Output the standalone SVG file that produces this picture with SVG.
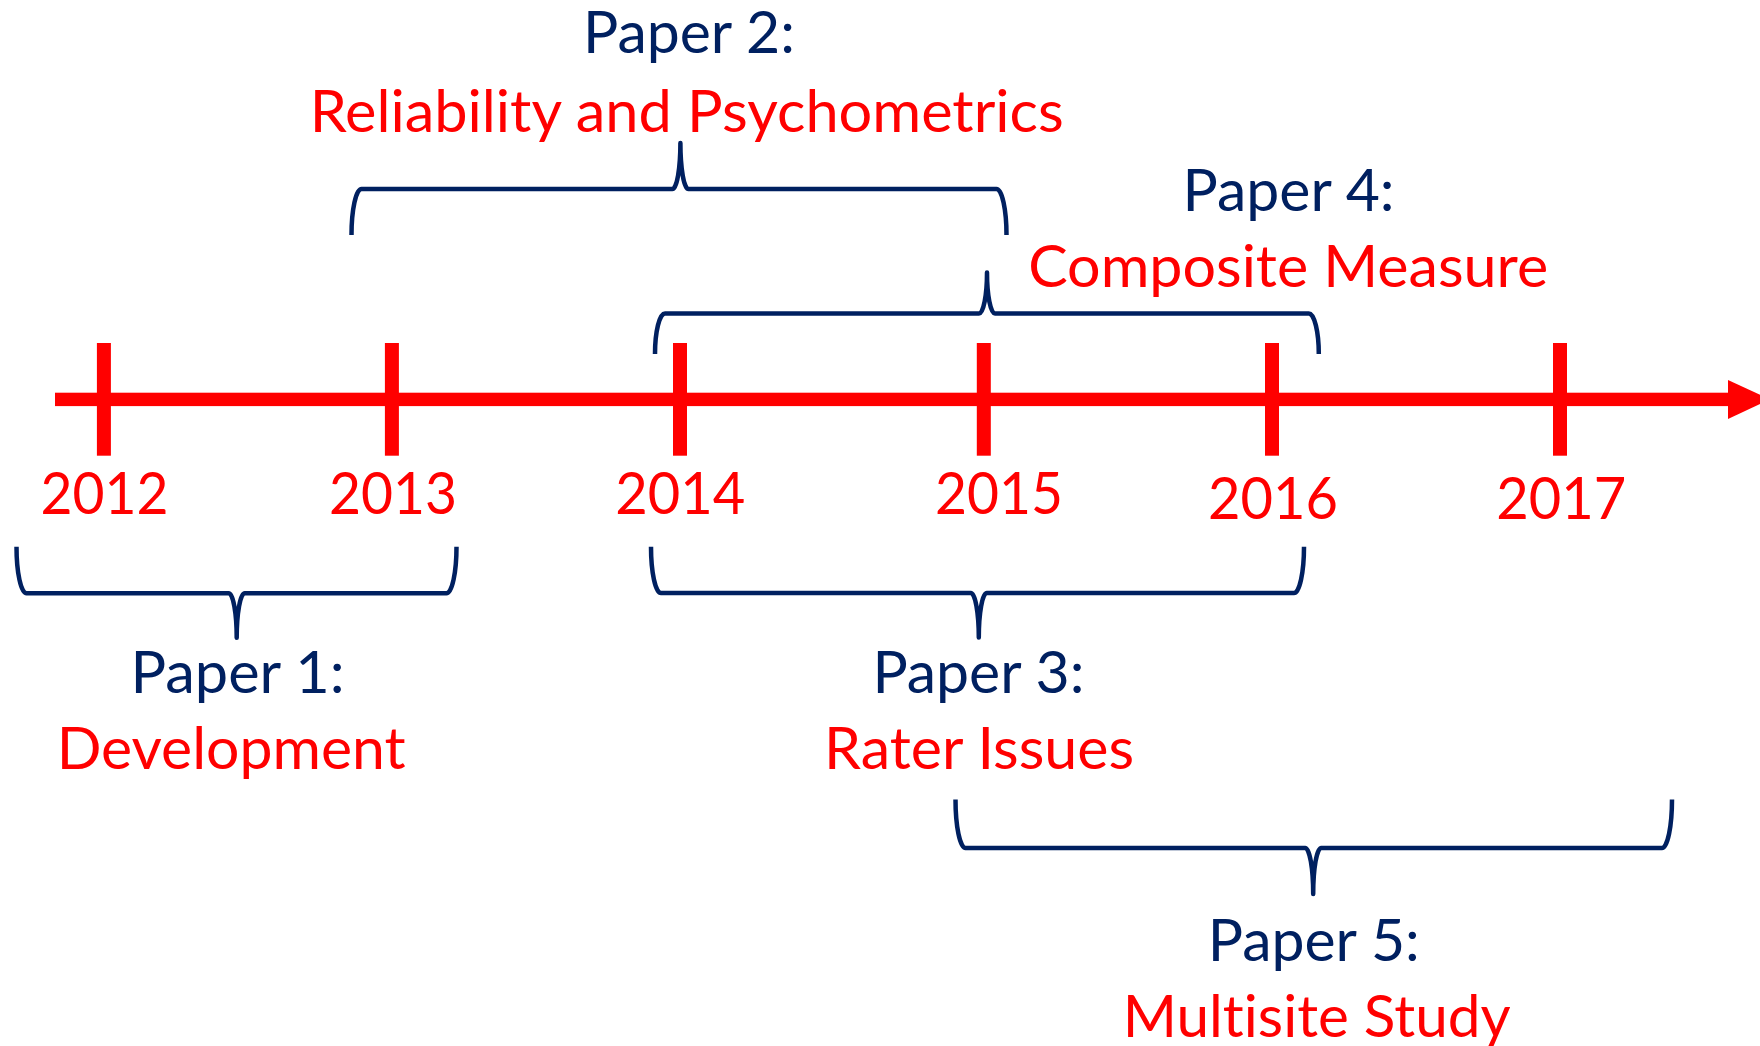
<svg xmlns="http://www.w3.org/2000/svg" width="1760" height="1046" viewBox="0 0 1760 1046">
  <style>
    text { font-family: Lato, "Open Sans", "Liberation Sans", sans-serif; font-size: 58px; text-anchor: middle; font-variant-ligatures: none; }
    .title { fill: #002060; }
    .topic { fill: #FF0000; }
    .year { fill: #FF0000; }
    .brace { fill: none; stroke: #002060; stroke-width: 4.5; stroke-linejoin: round; stroke-linecap: butt; }
    .tick { fill: #FF0000; }
  </style>

  <!-- timeline axis with arrowhead -->
  <g id="timeline">
    <rect x="55" y="392.7" width="1675" height="13.4" fill="#FF0000"/>
    <polygon points="1728,380 1770,399.4 1728,419" fill="#FF0000"/>
    <rect class="tick" x="96.9" y="343" width="14" height="112.7"/>
    <rect class="tick" x="384.9" y="343" width="14" height="112.7"/>
    <rect class="tick" x="673" y="343" width="14" height="112.7"/>
    <rect class="tick" x="976.8" y="343" width="14" height="112.7"/>
    <rect class="tick" x="1265" y="343" width="14" height="112.7"/>
    <rect class="tick" x="1553" y="343" width="14" height="112.7"/>
  </g>

  <!-- year labels -->
  <g id="years">
    <text class="year" x="104.4" y="514" textLength="128" lengthAdjust="spacingAndGlyphs">2012</text>
    <text class="year" x="392.9" y="514" textLength="128" lengthAdjust="spacingAndGlyphs">2013</text>
    <text class="year" x="680.2" y="514" textLength="130" lengthAdjust="spacingAndGlyphs">2014</text>
    <text class="year" x="999" y="514" textLength="128" lengthAdjust="spacingAndGlyphs">2015</text>
    <text class="year" x="1272.9" y="519" textLength="130" lengthAdjust="spacingAndGlyphs">2016</text>
    <text class="year" x="1561.3" y="519" textLength="130" lengthAdjust="spacingAndGlyphs">2017</text>
  </g>

  <!-- span braces -->
  <g id="connectors">
    <path class="brace" d="M16.5 546.7 A10 46.6 0 0 0 26.5 593.3 H228.7 A8 44.5 0 0 1 236.7 637.8 A8 44.5 0 0 1 244.7 593.3 H446.5 A10 46.6 0 0 0 456.5 546.7"/>
    <path class="brace" d="M351.5 235 A10 46 0 0 1 361.5 189 H672.4 A8 46 0 0 0 680.4 143 A8 46 0 0 0 688.4 189 H996.5 A10 46 0 0 1 1006.5 235"/>
    <path class="brace" d="M651 546.7 A10 46.3 0 0 0 661 593 H970.8 A8 44.5 0 0 1 978.8 637.5 A8 44.5 0 0 1 986.8 593 H1294 A10 46.3 0 0 0 1304 546.7"/>
    <path class="brace" d="M655 354 A10 40.5 0 0 1 665 313.5 H979 A8 41 0 0 0 987 272.5 A8 41 0 0 0 995 313.5 H1308.8 A10 40.5 0 0 1 1318.8 354"/>
    <path class="brace" d="M955.5 799.5 A10 48.5 0 0 0 965.5 848 H1305.2 A8 46 0 0 1 1313.2 894 A8 46 0 0 1 1321.2 848 H1662 A10 48.5 0 0 0 1672 799.5"/>
  </g>

  <g id="paper1">
    <text class="title" x="237.5" y="692.7" textLength="214" lengthAdjust="spacingAndGlyphs">Paper 1:</text>
    <text class="topic" x="231.2" y="769.3" textLength="349" lengthAdjust="spacingAndGlyphs">Development</text>
  </g>

  <g id="paper2">
    <text class="title" x="689" y="53" textLength="212" lengthAdjust="spacingAndGlyphs">Paper 2:</text>
    <text class="topic" x="686.7" y="132" textLength="754" lengthAdjust="spacingAndGlyphs">Reliability and Psychometrics</text>
  </g>

  <g id="paper3">
    <text class="title" x="978.4" y="692.7" textLength="212" lengthAdjust="spacingAndGlyphs">Paper 3:</text>
    <text class="topic" x="979.1" y="769.3" textLength="310" lengthAdjust="spacingAndGlyphs">Rater Issues</text>
  </g>

  <g id="paper4">
    <text class="title" x="1288.6" y="210.7" textLength="212" lengthAdjust="spacingAndGlyphs">Paper 4:</text>
    <text class="topic" x="1288.2" y="287.3" textLength="520" lengthAdjust="spacingAndGlyphs">Composite Measure</text>
  </g>

  <g id="paper5">
    <text class="title" x="1313.8" y="961" textLength="212" lengthAdjust="spacingAndGlyphs">Paper 5:</text>
    <text class="topic" x="1316.7" y="1036.7" textLength="388" lengthAdjust="spacingAndGlyphs">Multisite Study</text>
  </g>
</svg>
